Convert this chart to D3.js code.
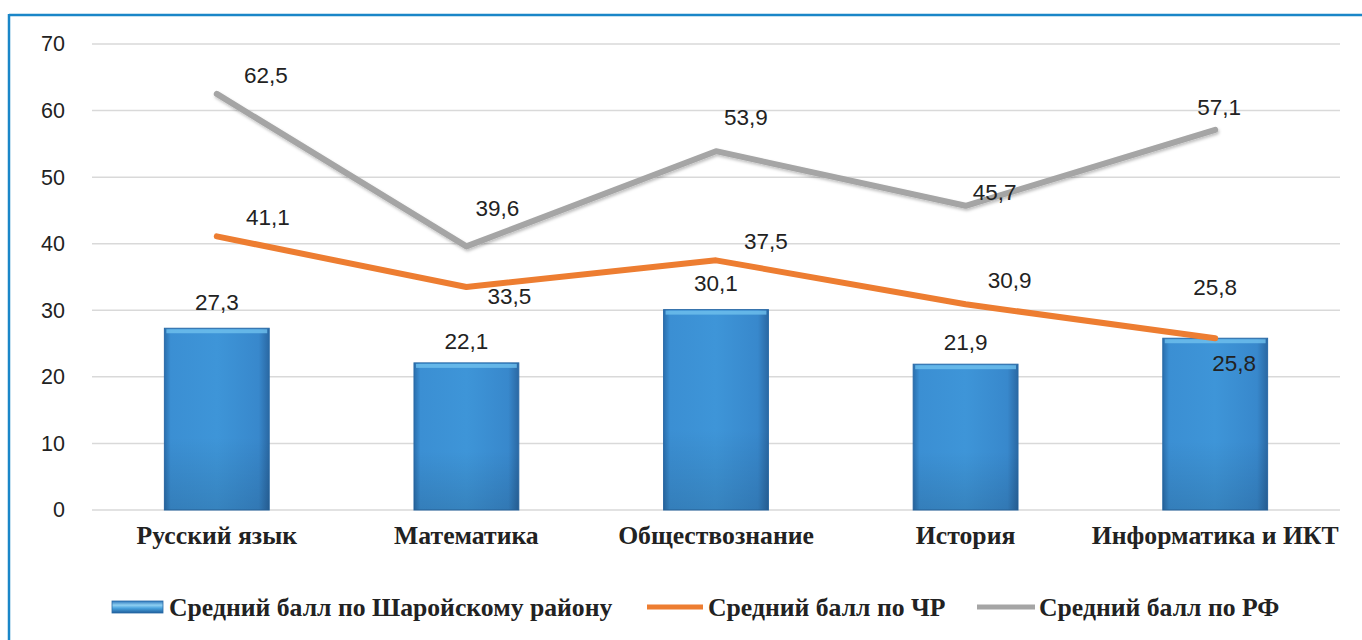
<!DOCTYPE html>
<html lang="ru">
<head>
<meta charset="utf-8">
<script src="https://cdn.jsdelivr.net/npm/d3@7"></script>
<style>
  html, body { margin: 0; padding: 0; background: #fff; }
  svg { display: block; }
</style>
</head>
<body>
<svg id="chart" width="1362" height="640"></svg>
<script>
// Subjects on the x axis
const subjects = ["Русский язык", "Математика", "Обществознание", "История", "Информатика и ИКТ"];
// Average exam scores
const districtScores = [27.3, 22.1, 30.1, 21.9, 25.8];   // Шаройский район (bars)
const republicScores = [41.1, 33.5, 37.5, 30.9, 25.8];   // ЧР (orange line)
const russiaScores   = [62.5, 39.6, 53.9, 45.7, 57.1];   // РФ (grey line)
// Y axis ticks
const yTicks = [0, 10, 20, 30, 40, 50, 60, 70];
// Legend captions
const seriesNames = ["Средний балл по Шаройскому району", "Средний балл по ЧР", "Средний балл по РФ"];

// Label nudges (dx, dy in px) relative to each point
const republicLabelShift = [[51, -19], [43, 10], [50, -19], [44, -24], [19, 25]];
const russiaLabelShift   = [[49, -18], [31, -38], [30, -34], [29, -13], [4, -22]];
const districtLabelShift = [-26, -21, -26, -22, -51];

const svg = d3.select("#chart");
const margin = { left: 92, right: 22, top: 44, bottom: 130 };
const W = 1362, H = 640;

const fmt = v => d3.format(".1f")(v).replace(".", ",");

// Frame: blue rule along the top and left edges
svg.append("line").attr("x1", 9).attr("x2", W).attr("y1", 15).attr("y2", 15)
  .attr("stroke", "#1a86c8").attr("stroke-width", 2.5);
svg.append("line").attr("x1", 9).attr("x2", 9).attr("y1", 14).attr("y2", H)
  .attr("stroke", "#1a86c8").attr("stroke-width", 2.5);

const x = d3.scaleBand().domain(subjects)
  .range([margin.left, W - margin.right]).paddingInner(0.58).paddingOuter(0.29);
const y = d3.scaleLinear().domain([0, 70]).range([H - margin.bottom, margin.top]);
const cx = s => x(s) + x.bandwidth() / 2;

// Gridlines
svg.append("g").selectAll("line").data(yTicks).join("line")
  .attr("x1", margin.left).attr("x2", W - margin.right)
  .attr("y1", d => y(d)).attr("y2", d => y(d))
  .attr("stroke", "#d9d9d9").attr("stroke-width", 1.5);

// Y axis labels
const yAxis = d3.axisLeft(y).tickValues(yTicks).tickSize(0).tickPadding(0).tickFormat(d3.format("d"));
svg.append("g").attr("transform", `translate(${margin.left - 27},0)`).call(yAxis)
  .call(g => g.select(".domain").remove())
  .call(g => g.selectAll("text").attr("font-family", "Liberation Sans, Arial, sans-serif")
    .attr("font-size", 21.5).attr("fill", "#222"));

// X axis labels
const xAxis = d3.axisBottom(x).tickSize(0).tickPadding(0);
svg.append("g").attr("transform", `translate(0,${y(0) + 15})`).call(xAxis)
  .call(g => g.select(".domain").remove())
  .call(g => g.selectAll("text").attr("font-family", "'Liberation Serif', 'Times New Roman', serif")
    .attr("font-weight", "bold").attr("font-size", 25.7).attr("fill", "#222").attr("dy", "0.75em"));

// Gradients for the bars
const defs = svg.append("defs");
const hg = defs.append("linearGradient").attr("id", "barH").attr("x1", 0).attr("x2", 1).attr("y1", 0).attr("y2", 0);
[[0, "#2a6fae"], [0.06, "#3b8fd3"], [0.5, "#3e95d8"], [0.9, "#3888cc"], [1, "#2a68a3"]]
  .forEach(([o, c]) => hg.append("stop").attr("offset", o).attr("stop-color", c));
const vg = defs.append("linearGradient").attr("id", "barV").attr("x1", 0).attr("x2", 0).attr("y1", 0).attr("y2", 1);
[[0, "#000", 0], [0.6, "#000", 0], [1, "#000", 0.12]]
  .forEach(([o, c, a]) => vg.append("stop").attr("offset", o).attr("stop-color", c).attr("stop-opacity", a));
const lg = defs.append("linearGradient").attr("id", "legendBar").attr("x1", 0).attr("x2", 0).attr("y1", 0).attr("y2", 1);
[[0, "#2e78bd"], [0.35, "#8fd0f2"], [0.6, "#4aa3de"], [1, "#1f5f9c"]]
  .forEach(([o, c]) => lg.append("stop").attr("offset", o).attr("stop-color", c));
const shadow = defs.append("filter").attr("id", "soft").attr("x", "-10%").attr("y", "-10%").attr("width", "120%").attr("height", "130%");
shadow.append("feDropShadow").attr("dx", 1).attr("dy", 2).attr("stdDeviation", 1.5).attr("flood-color", "#000").attr("flood-opacity", 0.25);

// Bars
const bars = svg.append("g");
bars.selectAll("rect.base").data(districtScores).join("rect").attr("class", "base")
  .attr("x", (d, i) => x(subjects[i])).attr("width", x.bandwidth())
  .attr("y", d => y(d)).attr("height", d => y(0) - y(d))
  .attr("fill", "url(#barH)").attr("stroke", "#2a6aa6").attr("stroke-width", 1);
bars.selectAll("rect.shade").data(districtScores).join("rect").attr("class", "shade")
  .attr("x", (d, i) => x(subjects[i])).attr("width", x.bandwidth())
  .attr("y", d => y(d)).attr("height", d => y(0) - y(d))
  .attr("fill", "url(#barV)");
bars.selectAll("rect.hl").data(districtScores).join("rect").attr("class", "hl")
  .attr("x", (d, i) => x(subjects[i]) + 2).attr("width", x.bandwidth() - 4)
  .attr("y", d => y(d) + 1).attr("height", 4)
  .attr("fill", "#6fc0ee").attr("opacity", 0.8);

// Lines
const line = d3.line().x((d, i) => cx(subjects[i])).y(d => y(d));
svg.append("path").datum(russiaScores).attr("d", line)
  .attr("fill", "none").attr("stroke", "#a5a5a5").attr("stroke-width", 6)
  .attr("stroke-linecap", "round").attr("stroke-linejoin", "round").attr("filter", "url(#soft)");
svg.append("path").datum(republicScores).attr("d", line)
  .attr("fill", "none").attr("stroke", "#ed7d31").attr("stroke-width", 6)
  .attr("stroke-linecap", "round").attr("stroke-linejoin", "round");

// Data labels
const labelFont = "Liberation Sans, Arial, sans-serif";
const labels = svg.append("g").attr("font-family", labelFont).attr("font-size", 22.5)
  .attr("fill", "#222").attr("text-anchor", "middle").attr("dominant-baseline", "central");
labels.selectAll("text.d").data(districtScores).join("text").attr("class", "d")
  .attr("x", (d, i) => cx(subjects[i])).attr("y", (d, i) => y(d) + districtLabelShift[i]).text(fmt);
labels.selectAll("text.r").data(republicScores).join("text").attr("class", "r")
  .attr("x", (d, i) => cx(subjects[i]) + republicLabelShift[i][0])
  .attr("y", (d, i) => y(d) + republicLabelShift[i][1]).text(fmt);
labels.selectAll("text.f").data(russiaScores).join("text").attr("class", "f")
  .attr("x", (d, i) => cx(subjects[i]) + russiaLabelShift[i][0])
  .attr("y", (d, i) => y(d) + russiaLabelShift[i][1]).text(fmt);

// Legend
const legend = svg.append("g").attr("font-family", "'Liberation Serif', 'Times New Roman', serif")
  .attr("font-weight", "bold").attr("font-size", 25.7).attr("fill", "#222");
const ly = 607;
legend.append("rect").attr("x", 112).attr("y", ly - 6).attr("width", 51).attr("height", 12)
  .attr("fill", "url(#legendBar)").attr("stroke", "#2a6aa6").attr("stroke-width", 0.8);
legend.append("text").attr("x", 169).attr("y", ly).attr("dominant-baseline", "central").text(seriesNames[0]);
legend.append("line").attr("x1", 647).attr("x2", 703).attr("y1", ly).attr("y2", ly)
  .attr("stroke", "#ed7d31").attr("stroke-width", 5);
legend.append("text").attr("x", 708).attr("y", ly).attr("dominant-baseline", "central").text(seriesNames[1]);
legend.append("line").attr("x1", 977).attr("x2", 1035).attr("y1", ly).attr("y2", ly)
  .attr("stroke", "#a5a5a5").attr("stroke-width", 5);
legend.append("text").attr("x", 1039).attr("y", ly).attr("dominant-baseline", "central").text(seriesNames[2]);
</script>
</body>
</html>
